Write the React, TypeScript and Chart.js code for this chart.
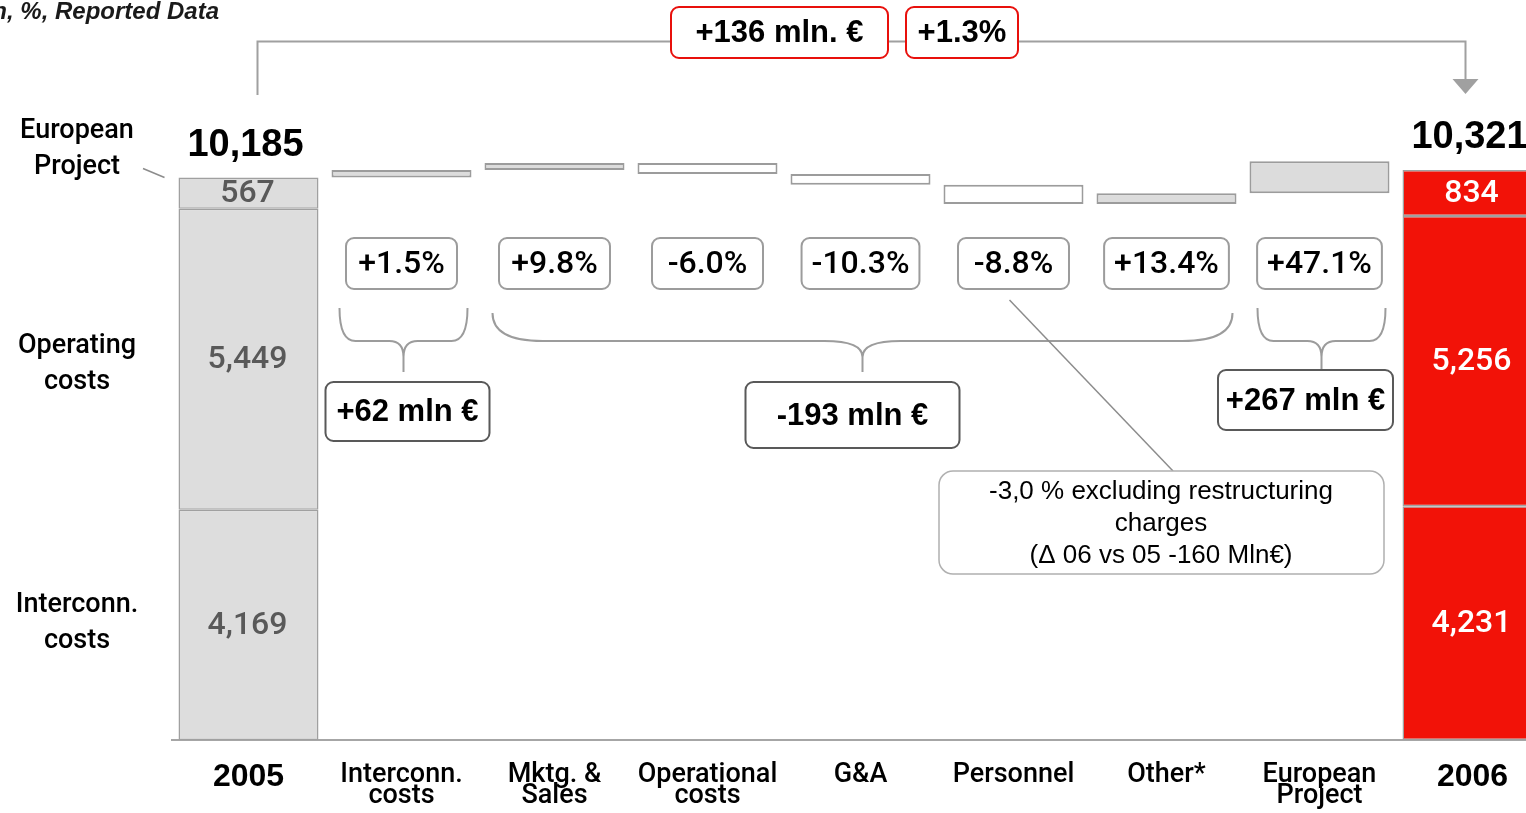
import React, { useEffect, useRef } from "react";
import { Chart, registerables } from "chart.js";

Chart.register(...registerables);

// ---- data (mln €) ----
const categoryLabels: string[][] = [
  ["2005"],
  ["Interconn.", "costs"],
  ["Mktg. &", "Sales"],
  ["Operational", "costs"],
  ["G&A"],
  ["Personnel"],
  ["Other*"],
  ["European", "Project"],
  ["2006"],
];
const yearLabels = ["2005", "2006"];
const interconnCosts = [4169, 4231];
const operatingCosts = [5449, 5256];
const europeanProjectCosts = [567, 834];
const segmentLabels = [
  ["Interconn.", "costs"],
  ["Operating", "costs"],
  ["European", "Project"],
];
// year-on-year change per cost item, in the order of the middle categories
const costChanges = [62, 58, -90, -90, -160, 89, 267];
const changePctLabels = ["+1.5%", "+9.8%", "-6.0%", "-10.3%", "-8.8%", "+13.4%", "+47.1%"];
// first / last index (into costChanges) of each bracketed group
const changeGroups = [
  [0, 0],
  [1, 5],
  [6, 6],
];
const personnelNote = ["-3,0 % excluding restructuring", "charges", "(\u0394 06 vs 05 -160 Mln\u20ac)"];
const unitCaption = "Euro mln, %, Reported Data";

// ---- derived series ----
const segments = [interconnCosts, operatingCosts, europeanProjectCosts];
const totals = yearLabels.map((_, j) => segments.reduce((s, arr) => s + arr[j], 0));
const yearIndex = [0, categoryLabels.length - 1];

const fmt = (n: number) => Math.abs(n).toLocaleString("en-US");
const signed = (n: number) => (n >= 0 ? "+" : "-") + fmt(n);

const stackDatasets = segments.map((vals, k) => {
  const data: ([number, number] | null)[] = categoryLabels.map(() => null);
  yearLabels.forEach((_, j) => {
    const base = segments.slice(0, k).reduce((s, arr) => s + arr[j], 0);
    data[yearIndex[j]] = [base, base + vals[j]];
  });
  return {
    label: segmentLabels[k].join(" "),
    data,
    yAxisID: "y",
    backgroundColor: (c: any) => (c.dataIndex === 0 ? "#dddddd" : "#f21208"),
    borderColor: "#a0a0a0",
    borderWidth: 1.5,
    borderSkipped: false as const,
  };
});

const stepData: ([number, number] | null)[] = categoryLabels.map(() => null);
{
  let run = totals[0];
  costChanges.forEach((d, i) => {
    stepData[i + 1] = [run, run + d];
    run += d;
  });
}

const stepDataset = {
  label: "Change",
  data: stepData,
  yAxisID: "yd",
  backgroundColor: (c: any) => ((costChanges[c.dataIndex - 1] ?? 0) > 0 ? "#dcdcdc" : "#ffffff"),
  borderColor: "#9c9c9c",
  borderWidth: 2,
  borderSkipped: false as const,
};

// ---- drawing helpers ----
const SANS = "'Liberation Sans', Arial, sans-serif";
const MED = "Roboto, 'Liberation Sans', sans-serif";

function roundRect(ctx: CanvasRenderingContext2D, x: number, y: number, w: number, h: number, r: number) {
  ctx.beginPath();
  ctx.moveTo(x + r, y);
  ctx.arcTo(x + w, y, x + w, y + h, r);
  ctx.arcTo(x + w, y + h, x, y + h, r);
  ctx.arcTo(x, y + h, x, y, r);
  ctx.arcTo(x, y, x + w, y, r);
  ctx.closePath();
}

function labelBox(
  ctx: CanvasRenderingContext2D,
  text: string,
  cx: number,
  top: number,
  w: number,
  h: number,
  font: string,
  stroke: string,
  lw: number,
  r = 8
) {
  roundRect(ctx, cx - w / 2, top, w, h, r);
  ctx.fillStyle = "#ffffff";
  ctx.fill();
  ctx.lineWidth = lw;
  ctx.strokeStyle = stroke;
  ctx.stroke();
  ctx.font = font;
  ctx.fillStyle = "#000000";
  ctx.textAlign = "center";
  ctx.textBaseline = "middle";
  ctx.fillText(text, cx, top + h / 2 + 1);
}

function brace(ctx: CanvasRenderingContext2D, x1: number, x2: number, yTop: number, yMid: number, yTip: number) {
  const xc = (x1 + x2) / 2;
  const r1 = Math.min(50, (x2 - x1) / 8);
  const r2 = Math.min(38, (x2 - x1) / 9);
  ctx.beginPath();
  ctx.moveTo(x1, yTop);
  ctx.quadraticCurveTo(x1, yMid, x1 + r1, yMid);
  ctx.lineTo(xc - r2, yMid);
  ctx.quadraticCurveTo(xc, yMid, xc, yMid + 16);
  ctx.lineTo(xc, yTip);
  ctx.moveTo(x2, yTop);
  ctx.quadraticCurveTo(x2, yMid, x2 - r1, yMid);
  ctx.lineTo(xc + r2, yMid);
  ctx.quadraticCurveTo(xc, yMid, xc, yMid + 16);
  ctx.stroke();
  return xc;
}

const annotationsPlugin = {
  id: "costAnnotations",
  afterDatasetsDraw(chart: any) {
    const ctx: CanvasRenderingContext2D = chart.ctx;
    const xs = chart.scales.x;
    const y = chart.scales.y;
    ctx.save();

    // values inside the stacked yearly bars
    yearLabels.forEach((_, j) => {
      const cx = xs.getPixelForValue(yearIndex[j]);
      let base = 0;
      segments.forEach((vals) => {
        const v = vals[j];
        const yc = (y.getPixelForValue(base) + y.getPixelForValue(base + v)) / 2;
        ctx.font = `500 32px ${MED}`;
        ctx.fillStyle = j === 0 ? "#595959" : "#ffffff";
        ctx.textAlign = "center";
        ctx.textBaseline = "middle";
        ctx.fillText(fmt(v), cx - 1, yc + 1);
        base += v;
      });
      // total above the bar
      ctx.font = `bold 38px ${SANS}`;
      ctx.fillStyle = "#000000";
      ctx.textBaseline = "alphabetic";
      ctx.fillText(fmt(totals[j]), cx - 3, y.getPixelForValue(totals[j]) - 22);
    });

    // segment names to the left of the 2005 bar
    {
      const x0 = xs.getPixelForValue(0);
      const nudge = [-2, 5];
      let base = 0;
      ctx.font = `500 27px ${MED}`;
      ctx.fillStyle = "#000000";
      ctx.textAlign = "center";
      ctx.textBaseline = "middle";
      segments.forEach((vals, k) => {
        const v = vals[0];
        const top = y.getPixelForValue(base + v);
        const mid = (y.getPixelForValue(base) + top) / 2;
        const last = k === segments.length - 1;
        const cy = last ? top - 28 : mid + nudge[k];
        ctx.fillText(segmentLabels[k][0], 77, cy - 18);
        ctx.fillText(segmentLabels[k][1], 77, cy + 18);
        if (last) {
          ctx.strokeStyle = "#8c8c8c";
          ctx.lineWidth = 1.5;
          ctx.beginPath();
          ctx.moveTo(143, cy + 19);
          ctx.lineTo(x0 - 84, top);
          ctx.stroke();
        }
        base += v;
      });
    }

    // percentage change boxes
    const pctFont = `500 32px ${MED}`;
    changePctLabels.forEach((t, i) => {
      const cx = xs.getPixelForValue(i + 1);
      ctx.font = pctFont;
      const w = Math.max(111, ctx.measureText(t).width + 20);
      labelBox(ctx, t, cx, 238, w, 51, pctFont, "#9c9c9c", 2);
    });

    // braces and absolute change per group
    const groupBoxes = [
      { top: 382, w: 164, h: 59, dx: 4 },
      { top: 382, w: 214, h: 66, dx: -10 },
      { top: 370, w: 175, h: 60, dx: -16 },
    ];
    changeGroups.forEach(([a, b], g) => {
      const left = xs.getPixelForValue(a + 1) - 62;
      const right = xs.getPixelForValue(b + 1) + 66;
      ctx.strokeStyle = "#9c9c9c";
      ctx.lineWidth = 2;
      const xc = brace(ctx, left, right, g === 1 ? 313 : 308, 341, 372);
      const sum = costChanges.slice(a, b + 1).reduce((s, v) => s + v, 0);
      const gb = groupBoxes[g];
      labelBox(ctx, `${signed(sum)} mln \u20ac`, xc + gb.dx, gb.top, gb.w, gb.h, `bold 31px ${SANS}`, "#595959", 2);
    });

    // personnel footnote
    {
      const px = xs.getPixelForValue(5);
      ctx.strokeStyle = "#8c8c8c";
      ctx.lineWidth = 1.5;
      ctx.beginPath();
      ctx.moveTo(px - 4, 300);
      ctx.lineTo(1173, 471);
      ctx.stroke();
      roundRect(ctx, 939, 471, 445, 103, 14);
      ctx.fillStyle = "#ffffff";
      ctx.fill();
      ctx.strokeStyle = "#b0b0b0";
      ctx.lineWidth = 1.5;
      ctx.stroke();
      ctx.font = `26px ${SANS}`;
      ctx.fillStyle = "#000000";
      ctx.textAlign = "center";
      ctx.textBaseline = "middle";
      personnelNote.forEach((line, i) => ctx.fillText(line, 1161, 492 + i * 32));
    }

    // overall change bracket on top
    {
      const xa = xs.getPixelForValue(0) + 9;
      const xb = xs.getPixelForValue(categoryLabels.length - 1) - 7;
      ctx.strokeStyle = "#a0a0a0";
      ctx.lineWidth = 2;
      ctx.beginPath();
      ctx.moveTo(xa, 95);
      ctx.lineTo(xa, 41.5);
      ctx.lineTo(xb, 41.5);
      ctx.lineTo(xb, 80);
      ctx.stroke();
      ctx.fillStyle = "#a0a0a0";
      ctx.beginPath();
      ctx.moveTo(xb - 13, 79);
      ctx.lineTo(xb + 13, 79);
      ctx.lineTo(xb, 94);
      ctx.closePath();
      ctx.fill();
      const diff = totals[1] - totals[0];
      const pct = ((diff / totals[0]) * 100).toFixed(1);
      labelBox(ctx, `${signed(diff)} mln. \u20ac`, 779.5, 7, 217, 51, `bold 31px ${SANS}`, "#e8100c", 2);
      labelBox(ctx, `${diff >= 0 ? "+" : ""}${pct}%`, 962, 7, 112, 51, `bold 31px ${SANS}`, "#e8100c", 2);
    }

    // unit caption
    ctx.font = `italic bold 24px ${SANS}`;
    ctx.fillStyle = "#1a1a1a";
    ctx.textAlign = "right";
    ctx.textBaseline = "alphabetic";
    ctx.fillText(unitCaption, 219, 19);

    ctx.restore();
  },
};

export default function App() {
  const canvasRef = useRef<HTMLCanvasElement>(null);

  useEffect(() => {
    const canvas = canvasRef.current;
    if (!canvas) return;
    const chart = new Chart(canvas, {
      type: "bar",
      data: {
        labels: categoryLabels,
        datasets: [...stackDatasets, stepDataset] as any,
      },
      options: {
        animation: false,
        responsive: false,
        devicePixelRatio: 1,
        layout: { padding: { left: 172, right: 11, top: 0, bottom: 0 } },
        datasets: {
          bar: { grouped: false, categoryPercentage: 1, barPercentage: 0.915 },
        } as any,
        plugins: {
          legend: { display: false },
          tooltip: { enabled: false },
        },
        scales: {
          x: {
            type: "category",
            offset: true,
            grid: { display: false, drawTicks: false },
            border: { display: true, color: "#a6a6a6", width: 2 },
            ticks: {
              padding: 25,
              color: "#000000",
              autoSkip: false,
              maxRotation: 0,
              font: (c: any) =>
                c.index === 0 || c.index === categoryLabels.length - 1
                  ? { family: SANS, weight: "bold", size: 32, lineHeight: 0.78 }
                  : { family: MED, weight: "500", size: 27, lineHeight: 0.78 },
            },
            afterFit: (s: any) => {
              s.height = 73;
            },
          },
          // yearly totals
          y: { display: false, min: 0, max: 13400 },
          // magnified range for the step-by-step changes
          yd: { display: false, min: 5497.5, max: 11664 },
        },
      },
      plugins: [annotationsPlugin],
    });
    return () => chart.destroy();
  }, []);

  return (
    <div
      style={{
        position: "fixed",
        left: 0,
        top: 0,
        width: 1526,
        height: 813,
        overflow: "hidden",
        background: "#ffffff",
      }}
    >
      <canvas ref={canvasRef} width={1560} height={813} style={{ display: "block", width: 1560, height: 813 }} />
    </div>
  );
}
